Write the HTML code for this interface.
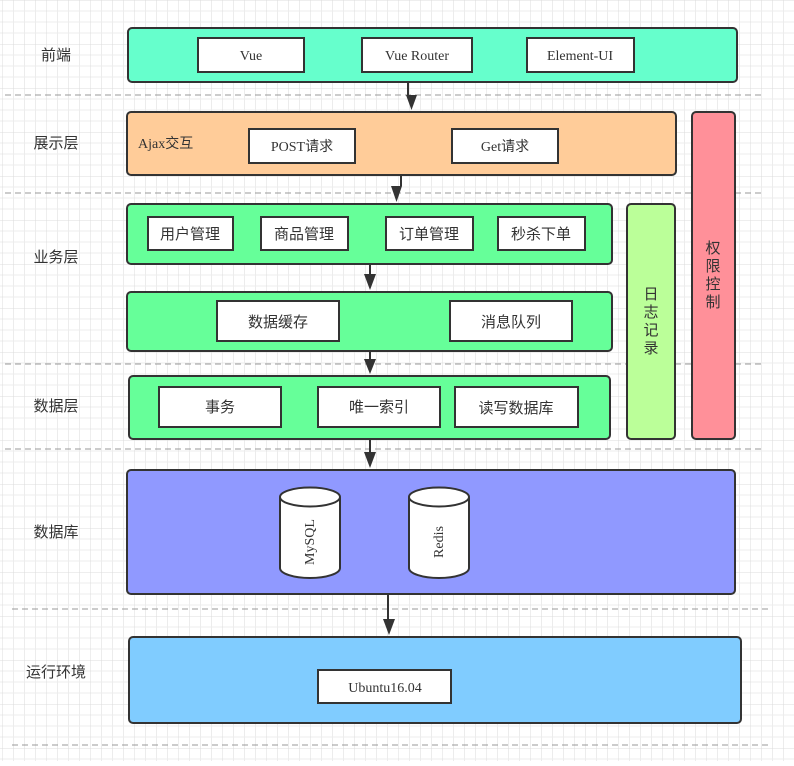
<!DOCTYPE html>
<html><head><meta charset="utf-8"><style>
html,body{margin:0;padding:0;background:#fff;}
svg text{font-family:"Liberation Serif","Noto Sans CJK SC",serif;fill:#333;}
.cj{font-family:"Liberation Sans","Noto Sans CJK SC",sans-serif;}
</style></head><body>
<svg width="794" height="761" viewBox="0 0 794 761" xmlns="http://www.w3.org/2000/svg">
<defs>
<pattern id="g" x="2.5" y="0" width="44" height="44" patternUnits="userSpaceOnUse">
<path d="M11 0V44M22 0V44M33 0V44M0 11H44M0 22H44M0 33H44" stroke="#ececec" stroke-width="1" fill="none"/>
<path d="M0 0V44M0 0H44" stroke="#dcdcdc" stroke-width="1" fill="none"/>
</pattern>
<marker id="a" markerWidth="10" markerHeight="12" refX="5" refY="11" orient="auto" markerUnits="userSpaceOnUse" viewBox="0 0 10 12">
<path d="M0 0L10 0L5 12Z" fill="#333" transform="rotate(-90 5 6)"/>
</marker>
</defs>
<rect width="794" height="761" fill="url(#g)"/>
<g stroke="#999" stroke-width="1" stroke-dasharray="6,4">
<line x1="5" y1="95" x2="765" y2="95"/>
<line x1="5" y1="193" x2="765" y2="193"/>
<line x1="5" y1="364" x2="765" y2="364"/>
<line x1="5" y1="449" x2="765" y2="449"/>
<line x1="12" y1="609" x2="772" y2="609"/>
<line x1="12" y1="745" x2="772" y2="745"/>
</g>
<g stroke="#333" stroke-width="2">
<rect x="128" y="28" width="609" height="54" rx="4" fill="#66ffcc"/>
<rect x="127" y="112" width="549" height="63" rx="4" fill="#ffcc99"/>
<rect x="127" y="204" width="485" height="60" rx="4" fill="#66ff99"/>
<rect x="127" y="292" width="485" height="59" rx="4" fill="#66ff99"/>
<rect x="129" y="376" width="481" height="63" rx="4" fill="#66ff99"/>
<rect x="627" y="204" width="48" height="235" rx="4" fill="#bbff99"/>
<rect x="692" y="112" width="43" height="327" rx="4" fill="#ff9099"/>
<rect x="127" y="470" width="608" height="124" rx="4" fill="#9099ff"/>
<rect x="129" y="637" width="612" height="86" rx="4" fill="#80ccff"/>
</g>
<g stroke="#333" stroke-width="2" fill="#fff">
<rect x="198" y="38" width="106" height="34"/>
<rect x="362" y="38" width="110" height="34"/>
<rect x="527" y="38" width="107" height="34"/>
<rect x="249" y="129" width="106" height="34"/>
<rect x="452" y="129" width="106" height="34"/>
<rect x="148" y="217" width="85" height="33"/>
<rect x="261" y="217" width="87" height="33"/>
<rect x="386" y="217" width="87" height="33"/>
<rect x="498" y="217" width="87" height="33"/>
<rect x="217" y="301" width="122" height="40"/>
<rect x="450" y="301" width="122" height="40"/>
<rect x="159" y="387" width="122" height="40"/>
<rect x="318" y="387" width="122" height="40"/>
<rect x="455" y="387" width="123" height="40"/>
<rect x="318" y="670" width="133" height="33"/>
<path d="M280 497V568A30 10 0 0 0 340 568V497"/>
<ellipse cx="310" cy="497" rx="30" ry="9.5"/>
<path d="M409 497V568A30 10 0 0 0 469 568V497"/>
<ellipse cx="439" cy="497" rx="30" ry="9.5"/>
</g>
<g stroke="#333" stroke-width="2" fill="none">
<line x1="408" y1="82" x2="408" y2="98"/>
<path d="M401 175V186"/>
<line x1="396" y1="186" x2="396" y2="190"/>
<line x1="370" y1="264" x2="370" y2="278"/>
<line x1="370" y1="351" x2="370" y2="362"/>
<line x1="370" y1="439" x2="370" y2="456"/>
<line x1="388" y1="594" x2="388" y2="622"/>
</g>
<g fill="#333">
<path d="M406 95L417 95L411.5 110Z"/>
<path d="M391 186L402 186L396.5 202Z"/>
<path d="M364 274L376 274L370 290Z"/>
<path d="M364 359L376 359L370 374Z"/>
<path d="M364 452L376 452L370 468Z"/>
<path d="M383 619L395 619L389 635Z"/>
</g>
<g font-size="14" text-anchor="middle">
<text x="251" y="60">Vue</text>
<text x="417" y="60">Vue Router</text>
<text x="580" y="60">Element-UI</text>
<text x="302" y="151">POST请求</text>
<text x="505" y="151">Get请求</text>
<text x="385" y="692">Ubuntu16.04</text>
<text x="314" y="542" transform="rotate(-90 314 542)">MySQL</text>
<text x="443" y="542" transform="rotate(-90 443 542)">Redis</text>
</g>
<text x="138" y="148" font-size="14">Ajax交互</text>
<g class="cj" font-size="15" text-anchor="middle">
<text class="cj" x="190" y="239">用户管理</text>
<text class="cj" x="304" y="239">商品管理</text>
<text class="cj" x="429" y="239">订单管理</text>
<text class="cj" x="541" y="239">秒杀下单</text>
<text class="cj" x="278" y="327">数据缓存</text>
<text class="cj" x="511" y="327">消息队列</text>
<text class="cj" x="220" y="412">事务</text>
<text class="cj" x="379" y="412">唯一索引</text>
<text class="cj" x="516" y="413">读写数据库</text>
<text class="cj" x="56" y="60">前端</text>
<text class="cj" x="56" y="148">展示层</text>
<text class="cj" x="56" y="262">业务层</text>
<text class="cj" x="56" y="411">数据层</text>
<text class="cj" x="56" y="537">数据库</text>
<text class="cj" x="56" y="677">运行环境</text>
<text class="cj" x="651" y="299">日</text>
<text class="cj" x="651" y="317">志</text>
<text class="cj" x="651" y="335">记</text>
<text class="cj" x="651" y="353">录</text>
<text class="cj" x="713" y="253">权</text>
<text class="cj" x="713" y="271">限</text>
<text class="cj" x="713" y="289">控</text>
<text class="cj" x="713" y="307">制</text>
</g>
</svg>
</body></html>
